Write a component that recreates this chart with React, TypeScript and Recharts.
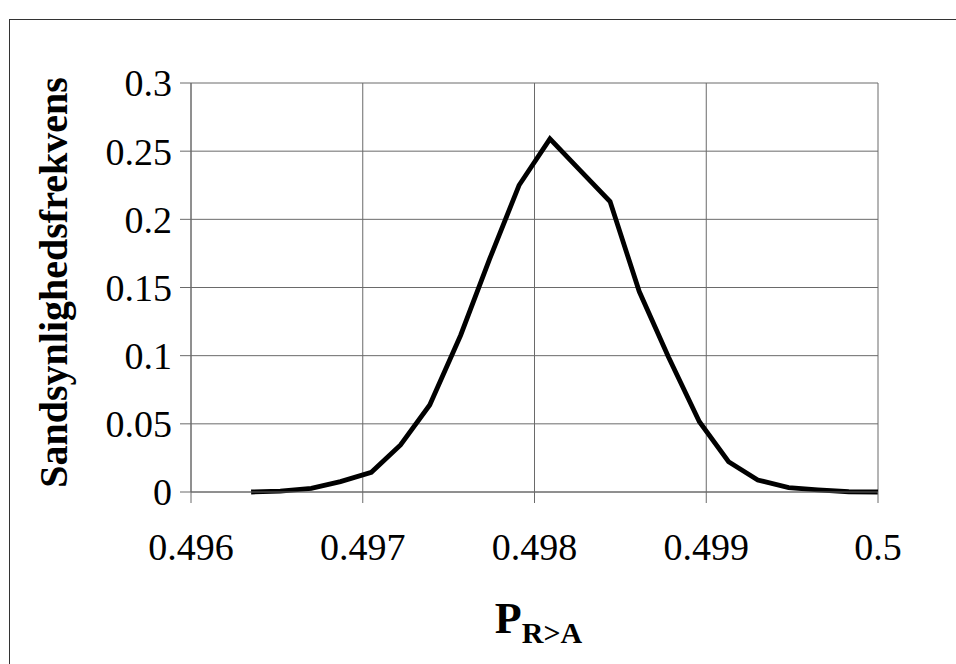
import { CartesianGrid, Label, Line, LineChart, XAxis, YAxis } from "recharts";

// P(R>A) sample points and their probability frequency
const P_VALUES = [
  0.49635, 0.49652, 0.4967, 0.49687, 0.49705, 0.49722, 0.49739, 0.49757,
  0.49774, 0.49791, 0.49809, 0.49826, 0.49844, 0.49861, 0.49878, 0.49896,
  0.49913, 0.4993, 0.49948, 0.49965, 0.49983, 0.5,
];
const FREQUENCY = [
  0, 0.0007, 0.0027, 0.0076, 0.0144, 0.0345, 0.0638, 0.115, 0.1713, 0.225,
  0.259, 0.2367, 0.213, 0.147, 0.099, 0.0515, 0.0222, 0.0088, 0.0032, 0.0015,
  0.0002, 0,
];
const X_TICKS = [0.496, 0.497, 0.498, 0.499, 0.5];
const Y_TICKS = [0, 0.05, 0.1, 0.15, 0.2, 0.25, 0.3];

const rows = P_VALUES.map((p, i) => ({ p, freq: FREQUENCY[i] }));

const AXIS = "#6a6a6a";

function XTitle(props: any) {
  const { viewBox } = props;
  const cx = viewBox.x + viewBox.width / 2;
  return (
    <text x={cx + 4} y={viewBox.y + 141} textAnchor="middle" fontWeight="bold" fill="#000">
      <tspan fontSize={44}>P</tspan>
      <tspan fontSize={30} dy={10}>R&gt;A</tspan>
    </text>
  );
}

function YTitle(props: any) {
  const { viewBox } = props;
  const cy = viewBox.y + viewBox.height / 2 - 5;
  return (
    <text
      transform={`translate(67, ${cy}) rotate(-90)`}
      textAnchor="middle"
      fontWeight="bold"
      fontSize={40}
      fill="#000"
    >
      Sandsynlighedsfrekvens
    </text>
  );
}

export default function App() {
  return (
    <div
      style={{
        position: "fixed",
        left: 0,
        top: 0,
        width: 956,
        height: 664,
        background: "#fff",
        overflow: "hidden",
        fontFamily: "'Liberation Serif', 'Times New Roman', serif",
      }}
    >
      <div
        style={{
          position: "absolute",
          left: 9,
          top: 19,
          width: 960,
          height: 660,
          border: "1px solid #333",
        }}
      />
      <div style={{ position: "absolute", left: 0, top: 0 }}>
        <LineChart width={956} height={664} data={rows} margin={{ top: 83, right: 78, left: 71, bottom: 72 }}>
          <CartesianGrid stroke={AXIS} strokeWidth={1} />
          <XAxis
            type="number"
            dataKey="p"
            domain={[0.496, 0.5]}
            ticks={X_TICKS}
            allowDataOverflow
            height={100}
            tickSize={11}
            tickMargin={30}
            stroke={AXIS}
            tick={{ fill: "#000", fontSize: 38 }}
            tickFormatter={(v) => String(v)}
          >
            <Label content={<XTitle />} />
          </XAxis>
          <YAxis
            type="number"
            domain={[0, 0.3]}
            ticks={Y_TICKS}
            width={120}
            tickSize={11}
            tickMargin={8}
            stroke={AXIS}
            tick={{ fill: "#000", fontSize: 38 }}
            tickFormatter={(v) => String(v)}
          >
            <Label content={<YTitle />} />
          </YAxis>
          <Line
            type="linear"
            dataKey="freq"
            stroke="#000"
            strokeWidth={4.8}
            dot={false}
            isAnimationActive={false}
          />
        </LineChart>
      </div>
    </div>
  );
}
